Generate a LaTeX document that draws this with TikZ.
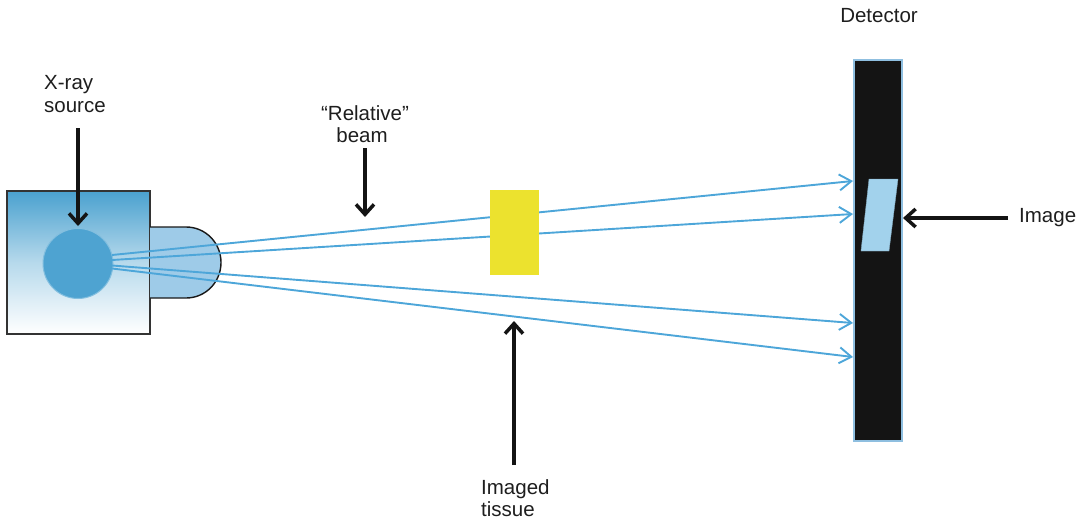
\documentclass[tikz,border=0pt]{standalone}
\usepackage{fontspec}
\setmainfont{Liberation Sans}
\usetikzlibrary{arrows.meta}
\definecolor{rayblue}{HTML}{4DA6D9}
\definecolor{srcblue}{HTML}{4EA3D1}
\definecolor{capblue}{HTML}{9ECBE8}
\definecolor{boxtop}{HTML}{4AA1CF}
\definecolor{tissue}{HTML}{ECE22E}
\definecolor{detfill}{HTML}{141414}
\definecolor{detedge}{HTML}{8FBFE0}
\definecolor{imgblue}{HTML}{A2D2EC}
\definecolor{txt}{HTML}{1E1E1E}
\begin{document}
\begin{tikzpicture}[x=1pt,y=-1pt,
  lbl/.style={inner sep=0pt,text=txt,font=\fontsize{20.5}{22.5}\selectfont},
  ray/.style={draw=rayblue,line width=1.9pt,-{Straight Barb[length=12pt,width=16pt,line width=1.9pt]}},
  callout/.style={draw=black!92,line width=3.3pt,-{Straight Barb[length=10pt,width=18pt,line width=3.5pt]}}]
\useasboundingbox (0,0) rectangle (1087,522);
% source box
\path[draw=black!80,line width=1.5pt,top color=boxtop,bottom color=white,middle color=boxtop!40!white]
  (7,191) rectangle (150,334);
\node[circle,fill=srcblue,draw=srcblue!70!white,line width=1pt,minimum size=70pt,inner sep=0pt] (src) at (78,263.5) {};
% cap
\draw[fill=capblue,draw=black!90,line width=1.4pt] (150,227) -- (186,227)
  .. controls (205.6,227) and (221,242.9) .. (221,262.5)
  .. controls (221,282.1) and (205.6,298) .. (186,298) -- (150,298);
% detector
\node[draw=detedge,fill=detfill,line width=1.5pt,minimum width=48pt,minimum height=381pt,inner sep=0pt] (det) at (878,250.5) {};
\draw[fill=imgblue,draw=imgblue!80!black,line width=0.4pt] (869,179) -- (898,179) -- (889,251) -- (861,251) -- cycle;
\coordinate (img) at (903,218);
% rays
\coordinate (s1) at (112,255);
\coordinate (s2) at (112,260);
\coordinate (s3) at (112,265.5);
\coordinate (s4) at (112,268.5);
\coordinate (e1) at (853,181);
\coordinate (e2) at (853,214);
\coordinate (e3) at (853,323);
\coordinate (e4) at (853,357);
\draw[ray] (s1) -- (e1);
\draw[ray] (s2) -- (e2);
\draw[ray] (s3) -- (e3);
\draw[ray] (s4) -- (e4);
% tissue
\node[fill=tissue,minimum width=49pt,minimum height=85pt,inner sep=0pt] (tis) at (514.5,232.5) {};
% labels
\node[lbl,anchor=base west] (xr1) at (44,89) {X-ray};
\node[lbl,anchor=base west] (xr2) at (44,112) {source};
\node[lbl,anchor=base] (rb1) at (365,120) {“Relative”};
\node[lbl,anchor=base] (rb2) at (362,142) {beam};
\node[lbl,anchor=base west] (it1) at (481,494) {Imaged};
\node[lbl,anchor=base west] (it2) at (481,516) {tissue};
\node[lbl,anchor=base] (dl) at (879,23) {Detector};
\node[lbl,anchor=base west] (il) at (1019,222) {Image};
% callouts
\coordinate (a1s) at (78,128);
\coordinate (a1e) at (78,226);
\coordinate (a2s) at (365,148);
\coordinate (a2e) at (365,217);
\coordinate (a3s) at (514,465);
\coordinate (a3e) at (514,321);
\coordinate (a4s) at (1008,218);
\draw[callout] (a1s) -- (a1e);
\draw[callout] (a2s) -- (a2e);
\draw[callout] (a3s) -- (a3e);
\draw[callout] (a4s) -- (img);
\end{tikzpicture}
\end{document}
